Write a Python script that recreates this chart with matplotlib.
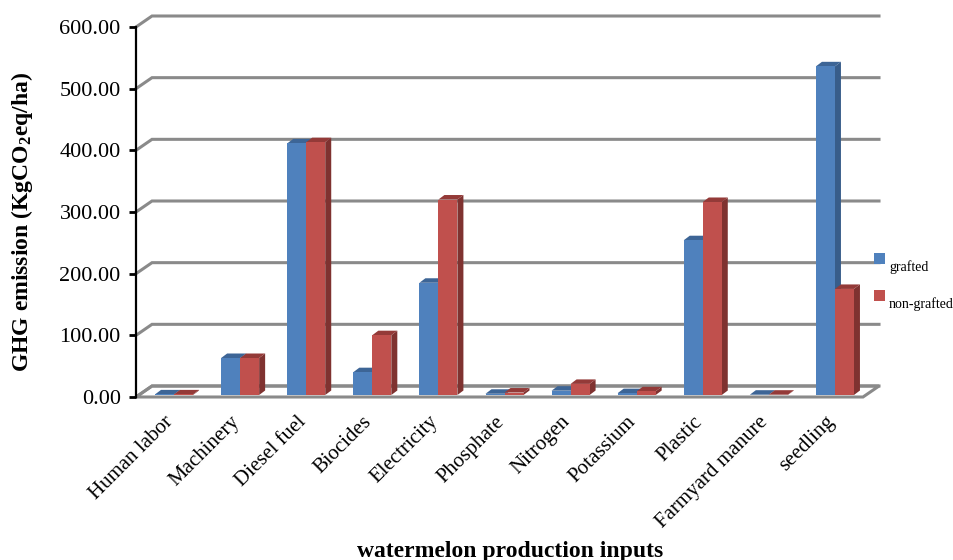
import matplotlib
matplotlib.use("Agg")
import matplotlib.pyplot as plt
from matplotlib.patches import Polygon, Rectangle
from matplotlib.transforms import Affine2D

plt.rcParams['font.family'] = ['Liberation Serif', 'DejaVu Serif']
plt.rcParams['mathtext.fontset'] = 'custom'
plt.rcParams['mathtext.bf'] = 'Liberation Serif:bold'
plt.rcParams['mathtext.rm'] = 'Liberation Serif'

# Data
categories = ["Human labor", "Machinery", "Diesel fuel", "Biocides", "Electricity", "Phosphate",
              "Nitrogen", "Potassium", "Plastic", "Farmyard manure", "seedling"]
grafted = [1, 60, 408, 37, 182, 2, 7, 3, 251, 0.5, 533]
non_grafted = [1, 60, 410, 97, 317, 4, 18, 6, 313, 0.5, 172]
y_ticks = [0, 100, 200, 300, 400, 500, 600]

W, H = 954, 560
LEFT, RIGHT, TOP, BOTTOM = 136, 863, 27, 397
GRID = "#8A8A8A"

fig = plt.figure(figsize=(W / 100, H / 100), dpi=100)
ax = fig.add_axes([LEFT / W, 1 - BOTTOM / H, (RIGHT - LEFT) / W, (BOTTOM - TOP) / H])
ax.set_xlim(0, len(categories))
ax.set_ylim(0, 600)
ax.patch.set_visible(False)

# pixel sizes expressed in data units
px_x = len(categories) / (RIGHT - LEFT)
px_y = 600 / (BOTTOM - TOP)


def wall_and_floor():
    dx, dy = 16 * px_x, 11 * px_y
    xmax = len(categories)
    floor = Polygon([(0, 0), (dx, dy), (xmax + dx, dy), (xmax, 0)], closed=True, facecolor="white",
                    edgecolor=GRID, lw=2.2, clip_on=False, zorder=1, joinstyle="miter")
    ax.add_patch(floor)
    for t in y_ticks:
        ax.plot([0, dx, xmax + dx], [t, t + dy, t + dy], color=GRID, lw=2.2, clip_on=False, zorder=1,
                solid_joinstyle="miter")


def draw_bar(x0, width, value, front, top, side):
    # front face sits a little way back from the front edge of the floor
    ox, oy = 5 * px_x, 2 * px_y
    dx, dy = 6 * px_x, 4.5 * px_y
    x0 = x0 + ox
    x1 = x0 + width
    ax.add_patch(Polygon([(x1, oy), (x1 + dx, oy + dy), (x1 + dx, oy + value + dy), (x1, oy + value)],
                         closed=True, facecolor=side, edgecolor="none", clip_on=False, zorder=3))
    ax.add_patch(Polygon([(x0, oy + value), (x0 + dx, oy + value + dy), (x1 + dx, oy + value + dy),
                          (x1, oy + value)], closed=True, facecolor=top, edgecolor="none", clip_on=False, zorder=3))
    ax.add_patch(Rectangle((x0, oy), width, value, facecolor=front, edgecolor="none", clip_on=False, zorder=3))


wall_and_floor()
bar_w = 19 * px_x
for i, (g, n) in enumerate(zip(grafted, non_grafted)):
    c = i + 0.5
    draw_bar(c - bar_w, bar_w, g, "#4F81BD", "#3D6596", "#385D8A")
    draw_bar(c, bar_w, n, "#C0504D", "#943A38", "#7F3230")

for s in ["top", "right", "bottom"]:
    ax.spines[s].set_visible(False)
ax.spines["left"].set_linewidth(1.6)
ax.spines["left"].set_zorder(5)
ax.set_yticks(y_ticks)
ax.set_yticklabels([f"{t:.2f}" for t in y_ticks], fontsize=16)
ax.tick_params(axis="y", length=5, width=2, pad=6)
ax.set_xticks([i + 0.5 for i in range(len(categories))])
ax.set_xticklabels(categories, rotation=45, ha="right", rotation_mode="anchor", fontsize=15)
ax.tick_params(axis="x", length=0, pad=11)
for lab in ax.get_xticklabels():
    lab.set_transform(lab.get_transform() + Affine2D().translate(-5, 0))

fig.text(22 / W, 1 - 222 / H, r"GHG emission (KgCO$\mathbf{_2}$eq/ha)", rotation=90, fontsize=17,
         fontweight="bold", ha="center", va="center")
fig.text(510 / W, 1 - 551 / H, "watermelon production inputs", fontsize=17, fontweight="bold",
         ha="center", va="center")

# Legend
for label, color, y in [("grafted", "#4F81BD", 253), ("non-grafted", "#C0504D", 290)]:
    fig.patches.append(Rectangle((874 / W, 1 - (y + 11) / H), 11 / W, 11 / H, transform=fig.transFigure,
                                 facecolor=color, edgecolor="none", figure=fig))
    fig.text(889 / W, 1 - (y + 14.5) / H, label, fontsize=10, ha="left", va="center")

fig.savefig("out.png", dpi=100)
